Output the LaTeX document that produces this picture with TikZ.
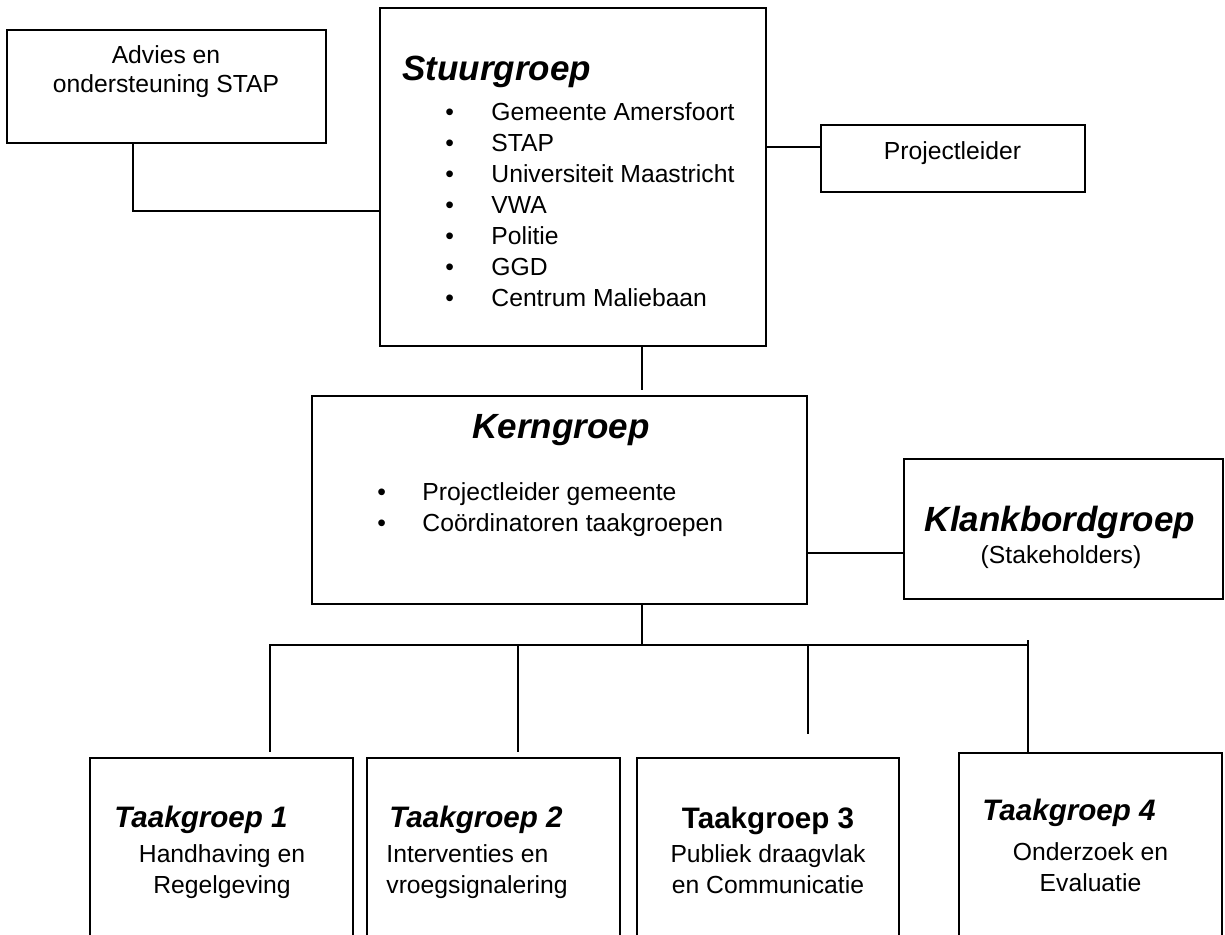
\documentclass[tikz,border=0pt]{standalone}
\usepackage{fontspec}
\setmainfont{Liberation Sans}
\usepackage{tikz}
\tikzstyle{groupbox} = [rectangle, draw=black, line width=0.85pt, inner sep=0pt]
\tikzstyle{connect} = [line width=0.7pt]
\tikzstyle{bigtitle} = [font=\fontsize{17.5pt}{21pt}\selectfont\bfseries\itshape, inner sep=0pt, anchor=base]
\tikzstyle{tgtitle} = [font=\fontsize{14.8pt}{18pt}\selectfont\bfseries\itshape, inner sep=0pt, anchor=base west]
\tikzstyle{bodytext} = [font=\fontsize{12.35pt}{15.5pt}\selectfont, inner sep=0pt, anchor=base]

\begin{document}
\begin{tikzpicture}[x=0.5pt, y=-0.5pt]
		\useasboundingbox (0,0) rectangle (1225,934);
		\clip (0,0) rectangle (1225,934);
		% boxes
		\node (advies) [groupbox, minimum width=159.5pt, minimum height=56.5pt] at (166.5,86.5) {};
		\node (stuur) [groupbox, minimum width=193pt, minimum height=169pt] at (573,177) {};
		\node (pl) [groupbox, minimum width=132pt, minimum height=33.5pt] at (953,158.5) {};
		\node (kern) [groupbox, minimum width=247.5pt, minimum height=104pt] at (559.5,500) {};
		\node (klank) [groupbox, minimum width=159.5pt, minimum height=70pt] at (1063.5,529) {};
		\node (tg1) [groupbox, anchor=north, minimum width=131.5pt, minimum height=125pt] at (221.5,757) {};
		\node (tg2) [groupbox, anchor=north, minimum width=126.5pt, minimum height=125pt] at (493.5,757) {};
		\node (tg3) [groupbox, anchor=north, minimum width=131pt, minimum height=125pt] at (768,757) {};
		\node (tg4) [groupbox, anchor=north, minimum width=131.5pt, minimum height=125pt] at (1090.5,752) {};
		% texts
		\node (advtxt) [bodytext] at (166,63) {\begin{tabular}[t]{@{}c@{}}Advies en\\[-1pt]ondersteuning STAP\end{tabular}};
		\node (stuurtitel) [bigtitle, anchor=base west] at (402,80) {Stuurgroep};
		\node (stuurlijst) [bodytext, anchor=base west] at (445,120) {\begin{tabular}[t]{@{}l@{\hspace{18.7pt}}l@{}}
			\textbullet & Gemeente Amersfoort\\
			\textbullet & STAP\\
			\textbullet & Universiteit Maastricht\\
			\textbullet & VWA\\
			\textbullet & Politie\\
			\textbullet & GGD\\
			\textbullet & Centrum Maliebaan
		\end{tabular}};
		\node (pltxt) [bodytext] at (952.5,159) {Projectleider};
		\node (kerntitel) [bigtitle] at (561,438) {Kerngroep};
		\node (kernlijst) [bodytext, anchor=base west] at (377,500) {\begin{tabular}[t]{@{}l@{\hspace{18.2pt}}l@{}}
			\textbullet & Projectleider gemeente\\
			\textbullet & Coördinatoren taakgroepen
		\end{tabular}};
		\node (klanktitel) [bigtitle] at (1060,531) {Klankbordgroep};
		\node (klanksub) [bodytext] at (1061,563) {(Stakeholders)};
		\node (tg1titel) [tgtitle] at (114,827) {Taakgroep 1};
		\node (tg1txt) [bodytext] at (222,862) {\begin{tabular}[t]{@{}c@{}}Handhaving en\\Regelgeving\end{tabular}};
		\node (tg2titel) [tgtitle] at (389,827) {Taakgroep 2};
		\node (tg2txt) [bodytext, anchor=base west] at (386,862) {\begin{tabular}[t]{@{}l@{}}Interventies en\\vroegsignalering\end{tabular}};
		\node (tg3titel) [tgtitle, anchor=base, font=\fontsize{14.8pt}{18pt}\selectfont\bfseries] at (768,828) {Taakgroep 3};
		\node (tg3txt) [bodytext] at (768,862) {\begin{tabular}[t]{@{}c@{}}Publiek draagvlak\\en Communicatie\end{tabular}};
		\node (tg4titel) [tgtitle] at (982,820) {Taakgroep 4};
		\node (tg4txt) [bodytext] at (1090.5,860) {\begin{tabular}[t]{@{}c@{}}Onderzoek en\\Evaluatie\end{tabular}};
		% connectors
		\coordinate (plin) at ([yshift=5.75pt]pl.west);
		\coordinate (sk) at ([xshift=34.5pt]stuur.south);
		\coordinate (kk) at ([yshift=-12pt]klank.west);
		\coordinate (bus) at ([xshift=41.25pt, yshift=-20pt]kern.south);
		\coordinate (d1) at ([xshift=24.25pt, yshift=2.5pt]tg1.north);
		\coordinate (d2) at ([xshift=12.25pt, yshift=2.5pt]tg2.north);
		\coordinate (d3) at ([xshift=20pt, yshift=11.5pt]tg3.north);
		\coordinate (d4) at ([xshift=-31.25pt]tg4.north);
		\draw [connect] ([xshift=-16.75pt]advies.south) |- ([yshift=-17pt]stuur.west);
		\draw [connect] (plin) -- (plin -| stuur.east);
		\draw [connect] (sk) -- ([yshift=2.5pt]sk |- kern.north);
		\draw [connect] (kk) -- (kk -| kern.east);
		\draw [connect] (bus |- kern.south) -- (bus);
		\draw [connect] (bus) -| (d1);
		\draw [connect] (bus) -| (d2);
		\draw [connect] (bus) -| (d3);
		\draw [connect] (bus) -| (d4);
		\draw [connect] (d4 |- bus) -- ++(0,2.5pt);
		\end{tikzpicture}
\end{document}
